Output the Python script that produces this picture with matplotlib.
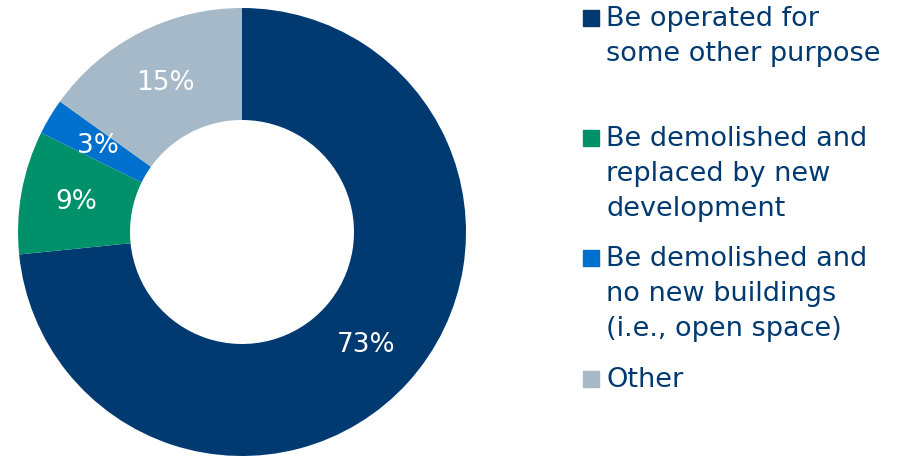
#!/usr/bin/env python

import matplotlib.pyplot as plt
from matplotlib.patches import Rectangle

categories = [
    "Be operated for\nsome other purpose",
    "Be demolished and\nreplaced by new\ndevelopment",
    "Be demolished and\nno new buildings\n(i.e., open space)",
    "Other",
]
shares = [73.4, 8.9, 2.6, 15.1]
colors = ["#003a70", "#00916a", "#0070cf", "#a6b9c9"]
text_color = "#003a70"

plt.rcParams["font.family"] = ["DejaVu Sans"]


def main():
    W, H = 921, 458
    fig = plt.figure(figsize=(W / 100, H / 100), dpi=100)

    # donut: centre (242, 232) px, outer radius 224 px
    cx, cy, r = 242, 232, 224
    ax = fig.add_axes([(cx - r) / W, (H - cy - r) / H, 2 * r / W, 2 * r / H])
    ax.pie(shares, colors=colors, startangle=90, counterclock=False,
           radius=1, wedgeprops=dict(width=0.5, linewidth=0),
           autopct="%.0f%%", pctdistance=0.75,
           textprops=dict(color="white", fontsize=19))
    ax.set_xlim(-1, 1)
    ax.set_ylim(-1, 1)
    ax.set_axis_off()

    # legend laid out by hand (uneven spacing in original)
    first_baselines = [26, 146, 266, 387]  # px from top
    step = 34.8
    for label, col, yb in zip(categories, colors, first_baselines):
        fig.patches.append(Rectangle((583 / W, 1 - yb / H), 16 / W, 16 / H,
                                     transform=fig.transFigure, color=col))
        for k, line in enumerate(label.split("\n")):
            fig.text(606 / W, 1 - (yb + k * step) / H, line, color=text_color,
                     fontsize=19.5, va="baseline", ha="left")

    fig.savefig("out.png", dpi=100)


if __name__ == "__main__":
    main()
